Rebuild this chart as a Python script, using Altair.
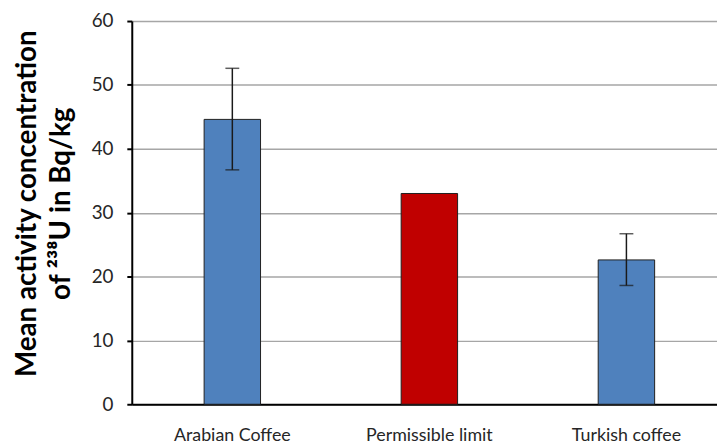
import altair as alt
import pandas as pd

categories = ["Arabian Coffee", "Permissible limit", "Turkish coffee"]
means = [44.6, 33.0, 22.6]
err_low = [36.7, None, 18.6]
err_high = [52.6, None, 26.7]
colors = ["#4F81BD", "#C00000", "#4F81BD"]

df = pd.DataFrame({"cat": categories, "mean": means, "lo": err_low, "hi": err_high, "color": colors})
df_err = df.dropna()

FONT = "Lato"

xscale = alt.Scale(paddingInner=0.7136, paddingOuter=0.3418, align=0.537)

x = alt.X("cat:N", sort=categories, title=None, scale=xscale,
          axis=alt.Axis(labelAngle=0, labelFontSize=18, labelFont=FONT, labelColor="#262626",
                        labelPadding=23, ticks=False, domainColor="#000000", domainWidth=2))
y = alt.Y("mean:Q", title=["Mean activity concentration", "of ²³⁸U in Bq/kg"],
          scale=alt.Scale(domain=[0, 60]),
          axis=alt.Axis(values=[0, 10, 20, 30, 40, 50, 60], labelFontSize=19, labelFont=FONT,
                        labelColor="#262626", labelPadding=14, tickSize=5, tickColor="#000000",
                        tickWidth=2, domainColor="#000000", domainWidth=2,
                        gridColor="#a6a6a6", gridWidth=1.5,
                        titleFont=FONT, titleFontSize=28, titleFontWeight="bold", titleColor="#000000",
                        titleX=-105, titleY=184, titleAngle=-90, titleAlign="center",
                        titleBaseline="middle", titleLineHeight=34))

bars = alt.Chart(df).mark_bar(stroke="#1f1f1f", strokeWidth=1).encode(
    x=x, y=y, color=alt.Color("color:N", scale=None))

rule = alt.Chart(df_err).mark_rule(color="#1a1a1a", strokeWidth=1.5).encode(
    x=alt.X("cat:N", sort=categories), y="lo:Q", y2="hi:Q")
cap_lo = alt.Chart(df_err).mark_tick(color="#1a1a1a", thickness=1.5, size=14).encode(
    x=alt.X("cat:N", sort=categories), y="lo:Q")
cap_hi = alt.Chart(df_err).mark_tick(color="#1a1a1a", thickness=1.5, size=14).encode(
    x=alt.X("cat:N", sort=categories), y="hi:Q")

chart = alt.layer(bars, rule, cap_lo, cap_hi).properties(
    width=591, height=387,
    autosize=alt.AutoSizeParams(type="none"),
    padding={"left": 125, "top": 11, "right": 0, "bottom": 42},
).configure_view(stroke=None).configure(background="white")

chart.save("out.html", embed_options={"renderer": "svg", "actions": False})
